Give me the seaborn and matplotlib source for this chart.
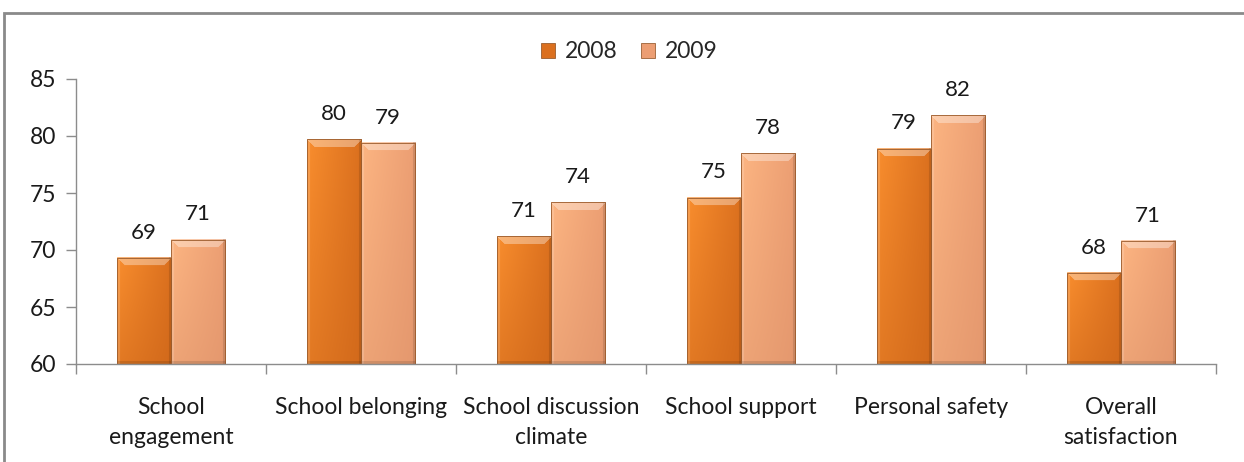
import numpy as np
import pandas as pd
import matplotlib
matplotlib.use("Agg")
import matplotlib.pyplot as plt
from matplotlib.patches import Patch, Rectangle
import seaborn as sns

# Survey scale scores by category
categories = ["School\nengagement", "School belonging", "School discussion\nclimate",
              "School support", "Personal safety", "Overall\nsatisfaction"]
years = ["2008", "2009"]
values_2008 = [69.3, 79.7, 71.2, 74.6, 78.9, 68.0]
values_2009 = [70.9, 79.4, 74.2, 78.5, 81.8, 70.8]

df = pd.DataFrame({
    "category": categories * 2,
    "year": [years[0]] * len(categories) + [years[1]] * len(categories),
    "score": values_2008 + values_2009,
})

sns.set_theme(style="white")
plt.rcParams["font.family"] = ["Lato", "DejaVu Sans"]

YMIN, YMAX = 60, 85
TEXT = "#1a1a1a"

# left/right/bottom shading colours for each series
shades = {
    "2008": ((0.975, 0.555, 0.180), (0.860, 0.440, 0.120), (0.780, 0.380, 0.090)),
    "2009": ((0.990, 0.710, 0.510), (0.925, 0.620, 0.450), (0.860, 0.565, 0.410)),
}
flat = {"2008": "#E8741C", "2009": "#F3A67A"}

fig = plt.figure(figsize=(12.44, 4.62), dpi=100)
ax = fig.add_axes([76 / 1244, 1 - 364 / 462, (1216 - 76) / 1244, (364 - 79) / 462])

sns.barplot(data=df, x="category", y="score", hue="year", hue_order=years,
            palette=flat, width=0.57, gap=0, ax=ax, legend=False,
            edgecolor="#8a4a1a", linewidth=0.6)

ax.set_ylim(YMIN, YMAX)
ax.set_xlim(-0.5, len(categories) - 0.5)
ax.set_yticks(range(YMIN, YMAX + 1, 5))

fig.canvas.draw()


def shaded_bar(patch, key):
    x0 = patch.get_x()
    w = patch.get_width()
    top = patch.get_y() + patch.get_height()
    y0 = max(patch.get_y(), YMIN)
    (px0, py0) = ax.transData.transform((x0, y0))
    (px1, py1) = ax.transData.transform((x0 + w, top))
    wp = max(int(round(px1 - px0)), 2)
    hp = max(int(round(py1 - py0)), 2)
    left, right, bottom = (np.array(c) for c in shades[key])
    tx = np.linspace(0, 1, wp)[None, :, None]
    ty = np.linspace(0, 1, hp)[:, None, None]  # 0 at top, 1 at bottom
    top_row = left * (1 - tx) + right * tx
    img = top_row * (1 - 0.45 * ty) + bottom * (0.45 * ty)
    img = np.broadcast_to(img, (hp, wp, 3)).copy()
    bev = 8
    rows = np.arange(hp)[:, None]
    cols = np.arange(wp)[None, :]
    top_band = (rows < bev) & (cols >= rows) & (cols < wp - rows)
    img[top_band] = img[top_band] * 0.65 + 0.35
    side = 3
    lft = np.broadcast_to((cols < side) & (rows >= np.minimum(cols, bev)), (hp, wp))
    img[lft] = img[lft] * 0.85 + 0.15
    rgt = np.broadcast_to(cols >= wp - side, (hp, wp))
    img[rgt] *= 0.88
    bot = np.broadcast_to(rows >= hp - side, (hp, wp))
    img[bot] *= 0.88
    ax.imshow(np.clip(img, 0, 1), extent=(x0, x0 + w, y0, top),
              aspect="auto", origin="upper", zorder=patch.get_zorder() + 0.1,
              interpolation="bilinear")
    ax.add_patch(Rectangle((x0, y0), w, top - y0, fill=False, edgecolor="#9a5a2a",
                           linewidth=0.6, zorder=patch.get_zorder() + 0.2))


n = len(categories)
for i, patch in enumerate(ax.patches[:2 * n]):
    key = years[i // n]
    shaded_bar(patch, key)
    val = df["score"].iloc[i]
    ax.annotate(f"{val:.0f}", (patch.get_x() + patch.get_width() / 2, val),
                xytext=(0, 11), textcoords="offset points", ha="center", va="bottom",
                fontsize=16, color=TEXT, zorder=5)

ax.set_xlim(-0.5, n - 0.5)
ax.set_ylim(YMIN, YMAX)

# category labels centred between boundary ticks
ax.set_xticks(np.arange(-0.5, n, 1.0))
ax.set_xticklabels([])
ax.set_xticks(np.arange(n), minor=True)
ax.set_xticklabels(categories, minor=True, fontsize=16.5, color=TEXT, linespacing=1.5)
ax.tick_params(axis="x", which="major", length=7, width=1, color="#8c8c8c", direction="out", bottom=True)
ax.tick_params(axis="x", which="minor", length=0, pad=24, bottom=True)
ax.tick_params(axis="y", length=7, width=1, color="#8c8c8c", direction="out", left=True,
               labelsize=16.5, labelcolor=TEXT, pad=7)
ax.set_xlabel("")
ax.set_ylabel("")
for s in ("top", "right"):
    ax.spines[s].set_visible(False)
for s in ("left", "bottom"):
    ax.spines[s].set_color("#8c8c8c")
    ax.spines[s].set_linewidth(1)
    ax.spines[s].set_zorder(6)

handles = [Patch(facecolor=shades[y][1], edgecolor="#8a4a1a", linewidth=0.5, label=y) for y in years]
fig.legend(handles=handles, loc="center", bbox_to_anchor=(0.506, 1 - 52 / 462), ncol=2,
           frameon=False, fontsize=16.5, handlelength=0.6, handleheight=0.6,
           handletextpad=0.45, columnspacing=1.0)

# outer chart frame
fig.add_artist(Rectangle((4 / 1244, -0.2), 1.5, 1.2 - 13 / 462, transform=fig.transFigure,
                         fill=False, edgecolor="#8a8a8a", linewidth=2))

fig.savefig("out.png", dpi=100)
